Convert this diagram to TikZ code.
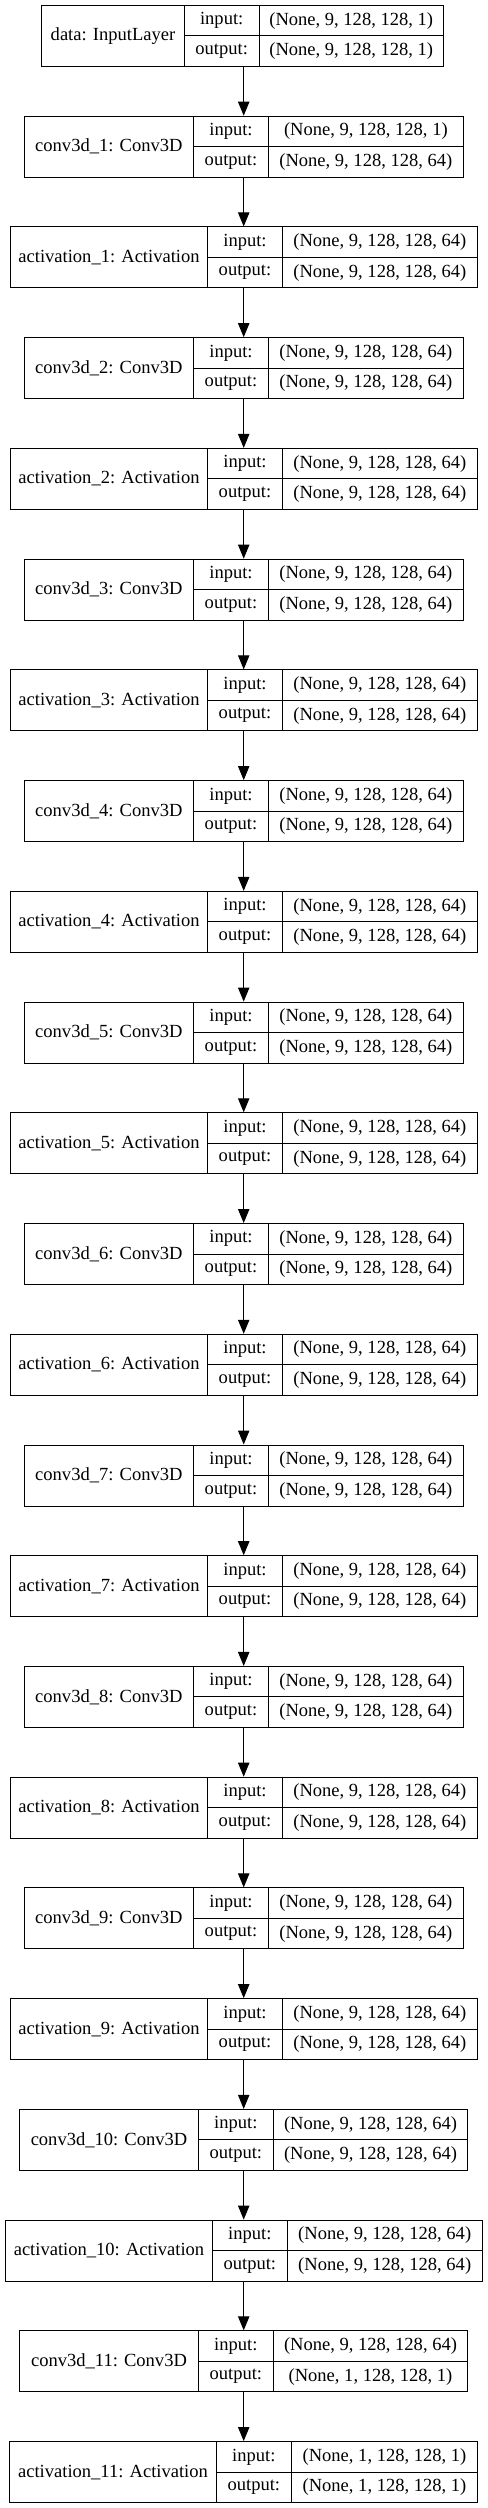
\documentclass[tikz,border=0pt]{standalone}
\usepackage{fontspec}
\setmainfont{Liberation Serif}
\usetikzlibrary{arrows.meta}
\tikzset{
  cell/.style={draw=black, line width=0.75pt, inner sep=0pt, anchor=north west,
    font=\fontsize{13.9pt}{16pt}\selectfont, align=center},
  arr/.style={-{Triangle[length=10.5pt,width=8.5pt]}, line width=0.75pt, black}
}
\newcommand{\klayer}[8]{%
  \pgfmathsetmacro\ytop{5+110.73*#1}%
  \pgfmathsetmacro\ymid{\ytop+30.5}%
  \pgfmathsetmacro\wA{(#4-#3)*0.75}%
  \pgfmathsetmacro\wB{(#5-#4)*0.75}%
  \pgfmathsetmacro\wC{(#6-#5)*0.75}%
  \node[cell, minimum width=\wA pt, minimum height=45.75pt] (n#1) at (#3,\ytop) {#2};
  \node[cell, minimum width=\wB pt, minimum height=22.875pt] (i#1) at (#4,\ytop) {input:};
  \node[cell, minimum width=\wB pt, minimum height=22.875pt] (o#1) at (#4,\ymid) {output:};
  \node[cell, minimum width=\wC pt, minimum height=22.875pt] (vi#1) at (#5,\ytop) {#7};
  \node[cell, minimum width=\wC pt, minimum height=22.875pt] (vo#1) at (#5,\ymid) {#8};
}
\begin{document}
\begin{tikzpicture}[x=0.75pt, y=-0.75pt]
\useasboundingbox (0,0) rectangle (487,2508);
\coordinate (ax) at (243.7,0);
\def\sA{(None, 9, 128, 128, 1)}
\def\sB{(None, 9, 128, 128, 64)}
\def\sC{(None, 1, 128, 128, 1)}
\klayer{0}{data: InputLayer}{41.3}{183.7}{258.7}{442.7}{\sA}{\sA}
\klayer{1}{conv3d\_1: Conv3D}{23.7}{193}{268}{462.7}{\sA}{\sB}
\klayer{2}{activation\_1: Activation}{10}{207}{282}{476.7}{\sB}{\sB}
\klayer{3}{conv3d\_2: Conv3D}{23.7}{193}{268}{462.7}{\sB}{\sB}
\klayer{4}{activation\_2: Activation}{10}{207}{282}{476.7}{\sB}{\sB}
\klayer{5}{conv3d\_3: Conv3D}{23.7}{193}{268}{462.7}{\sB}{\sB}
\klayer{6}{activation\_3: Activation}{10}{207}{282}{476.7}{\sB}{\sB}
\klayer{7}{conv3d\_4: Conv3D}{23.7}{193}{268}{462.7}{\sB}{\sB}
\klayer{8}{activation\_4: Activation}{10}{207}{282}{476.7}{\sB}{\sB}
\klayer{9}{conv3d\_5: Conv3D}{23.7}{193}{268}{462.7}{\sB}{\sB}
\klayer{10}{activation\_5: Activation}{10}{207}{282}{476.7}{\sB}{\sB}
\klayer{11}{conv3d\_6: Conv3D}{23.7}{193}{268}{462.7}{\sB}{\sB}
\klayer{12}{activation\_6: Activation}{10}{207}{282}{476.7}{\sB}{\sB}
\klayer{13}{conv3d\_7: Conv3D}{23.7}{193}{268}{462.7}{\sB}{\sB}
\klayer{14}{activation\_7: Activation}{10}{207}{282}{476.7}{\sB}{\sB}
\klayer{15}{conv3d\_8: Conv3D}{23.7}{193}{268}{462.7}{\sB}{\sB}
\klayer{16}{activation\_8: Activation}{10}{207}{282}{476.7}{\sB}{\sB}
\klayer{17}{conv3d\_9: Conv3D}{23.7}{193}{268}{462.7}{\sB}{\sB}
\klayer{18}{activation\_9: Activation}{10}{207}{282}{476.7}{\sB}{\sB}
\klayer{19}{conv3d\_10: Conv3D}{19}{198}{272.7}{467.3}{\sB}{\sB}
\klayer{20}{activation\_10: Activation}{5}{212}{286.7}{481.7}{\sB}{\sB}
\klayer{21}{conv3d\_11: Conv3D}{19}{198}{272.7}{467.3}{\sB}{\sC}
\klayer{22}{activation\_11: Activation}{9}{216}{290.7}{477.3}{\sC}{\sC}
\foreach \i [evaluate=\i as \j using int(\i+1)] in {0,...,21}
  \draw[arr] (o\i.south -| ax) -- (i\j.north -| ax);
\end{tikzpicture}
\end{document}
